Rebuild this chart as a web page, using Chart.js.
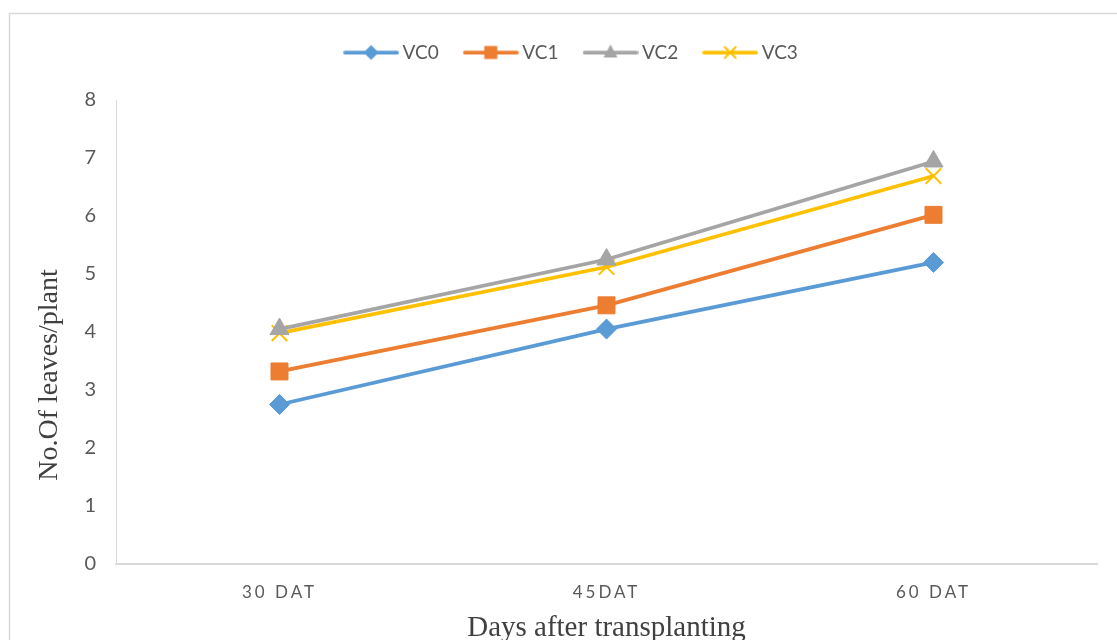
<!DOCTYPE html>
<html>
<head>
<meta charset="utf-8">
<script src="https://cdn.jsdelivr.net/npm/chart.js@4/dist/chart.umd.min.js"></script>
<style>
  html, body { margin: 0; padding: 0; background: #ffffff; }
  #wrap { width: 1117px; height: 640px; position: relative; }
</style>
</head>
<body>
<div id="wrap"><canvas id="chart"></canvas></div>
<script>
// Stages of growth (days after transplanting)
const categories = ['30 DAT', '45DAT', '60 DAT'];

// Number of leaves per plant for each treatment
const vc0 = [2.75, 4.05, 5.20];
const vc1 = [3.32, 4.46, 6.02];
const vc2 = [4.05, 5.25, 6.94];
const vc3 = [3.98, 5.12, 6.69];

const seriesNames = ['VC0', 'VC1', 'VC2', 'VC3'];
const seriesColors = ['#5B9BD5', '#ED7D31', '#A5A5A5', '#FFC000'];
const seriesMarkers = ['rectRot', 'rect', 'triangle', 'crossRot'];
const markerRadius = { rectRot: 10, rect: 12, triangle: 11, crossRot: 11 };

const yTicks = [0, 1, 2, 3, 4, 5, 6, 7, 8];

// Legend sample: a short line with the series marker on it
function legendSample(color, marker) {
  const c = document.createElement('canvas');
  c.width = 56; c.height = 22;
  const g = c.getContext('2d');
  const cy = 11, cx = 28;
  g.strokeStyle = color; g.fillStyle = color;
  g.lineWidth = 3.75; g.lineCap = 'round';
  g.beginPath(); g.moveTo(2, cy); g.lineTo(54, cy); g.stroke();
  g.beginPath();
  if (marker === 'rectRot') {
    g.moveTo(cx, cy - 7.5); g.lineTo(cx + 7.5, cy); g.lineTo(cx, cy + 7.5); g.lineTo(cx - 7.5, cy); g.closePath(); g.fill();
  } else if (marker === 'rect') {
    g.fillRect(cx - 6.5, cy - 6.5, 13, 13);
  } else if (marker === 'triangle') {
    g.moveTo(cx, cy - 8); g.lineTo(cx + 7, cy + 5); g.lineTo(cx - 7, cy + 5); g.closePath(); g.fill();
  } else {
    g.lineWidth = 2; g.lineCap = 'butt';
    g.moveTo(cx - 6, cy - 6); g.lineTo(cx + 6, cy + 6);
    g.moveTo(cx + 6, cy - 6); g.lineTo(cx - 6, cy + 6); g.stroke();
  }
  return c;
}
const legendImages = seriesNames.map((n, i) => legendSample(seriesColors[i], seriesMarkers[i]));

const seriesValues = [vc0, vc1, vc2, vc3];
const datasets = seriesNames.map((name, i) => ({
  label: name,
  data: seriesValues[i],
  borderColor: seriesColors[i],
  backgroundColor: seriesColors[i],
  borderWidth: 3.75,
  pointStyle: seriesMarkers[i],
  pointRadius: markerRadius[seriesMarkers[i]],
  pointBorderWidth: seriesMarkers[i] === 'crossRot' ? 2 : 1,
  pointHoverRadius: markerRadius[seriesMarkers[i]],
  tension: 0,
  fill: false
}));

// Frame around the chart and a white background
const framePlugin = {
  id: 'frame',
  beforeDraw(chart) {
    const ctx = chart.ctx;
    ctx.save();
    ctx.fillStyle = '#ffffff';
    ctx.fillRect(0, 0, chart.width, chart.height);
    ctx.strokeStyle = '#d9d9d9';
    ctx.lineWidth = 1.5;
    ctx.beginPath();
    ctx.moveTo(9.5, chart.height + 2);
    ctx.lineTo(9.5, 13.5);
    ctx.lineTo(chart.width + 2, 13.5);
    ctx.stroke();
    ctx.restore();
  }
};

// Wrap a scale drawing method so it runs with extra context settings
function wrapDraw(scale, method, setup) {
  const key = '_wrapped_' + method;
  if (scale[key]) return;
  const orig = scale[method].bind(scale);
  scale[method] = function (arg) {
    const ctx = scale.ctx;
    ctx.save();
    setup(ctx);
    orig(arg);
    ctx.restore();
  };
  scale[key] = true;
}

// Extra room under the legend, a sideways nudge of the legend row,
// letter spacing for the category labels and offsets for the axis titles
const tweakPlugin = {
  id: 'tweak',
  beforeLayout(chart) {
    const lg = chart.legend;
    if (lg && !lg._tall) {
      const fit = lg.fit.bind(lg);
      lg.fit = function () { fit(); this.height += 28; };
      lg._tall = true;
    }
  },
  afterLayout(chart) {
    const lg = chart.legend;
    if (lg) { lg.left += 25; lg.right += 25; }
    const xs = chart.scales.x, ys = chart.scales.y;
    if (xs) {
      wrapDraw(xs, 'drawLabels', ctx => { ctx.letterSpacing = '3px'; });
      wrapDraw(xs, 'drawTitle', ctx => { ctx.translate(0, 3); });
    }
    if (ys) {
      wrapDraw(ys, 'drawTitle', ctx => { ctx.translate(0, 43); });
    }
  }
};

const uiFont = 'Lato, "Open Sans", "Liberation Sans", sans-serif';
const serifFont = '"Liberation Serif", "DejaVu Serif", serif';

new Chart(document.getElementById('chart'), {
  type: 'line',
  data: { labels: categories, datasets },
  plugins: [framePlugin, tweakPlugin],
  options: {
    responsive: true,
    maintainAspectRatio: false,
    animation: false,
    layout: { padding: { top: 13, right: 20, bottom: 0, left: 0 } },
    plugins: {
      tooltip: { enabled: false },
      legend: {
        position: 'top',
        labels: {
          usePointStyle: true,
          pointStyleWidth: 44,
          padding: 30,
          color: '#595959',
          font: { family: uiFont, size: 19 },
          generateLabels(chart) {
            return chart.data.datasets.map((ds, i) => ({
              text: ds.label,
              pointStyle: legendImages[i],
              fillStyle: ds.borderColor,
              strokeStyle: ds.borderColor,
              lineWidth: 0,
              hidden: false,
              datasetIndex: i,
              fontColor: '#595959'
            }));
          }
        }
      }
    },
    scales: {
      x: {
        offset: true,
        grid: { display: false, drawTicks: false },
        border: { display: true, color: '#d9d9d9', width: 2 },
        ticks: { color: '#595959', font: { family: uiFont, size: 17 }, padding: 18, maxRotation: 0 },
        title: {
          display: true,
          text: 'Days after transplanting',
          color: '#404040',
          font: { family: serifFont, size: 29, lineHeight: 1 },
          padding: { top: 4, bottom: 0 }
        },
        afterFit(scale) { scale.height = 76; }
      },
      y: {
        min: 0,
        max: 8,
        afterBuildTicks(scale) { scale.ticks = yTicks.map(v => ({ value: v })); },
        grid: { display: false, drawTicks: false },
        border: { display: true, color: '#d9d9d9', width: 1 },
        ticks: { color: '#595959', font: { family: uiFont, size: 20 }, padding: 20 },
        title: {
          display: true,
          text: 'No.Of leaves/plant',
          color: '#404040',
          font: { family: serifFont, size: 28, lineHeight: 1 },
          padding: { top: 36, bottom: 0 }
        },
        afterFit(scale) { scale.width = 116; }
      }
    }
  }
});
</script>
</body>
</html>
